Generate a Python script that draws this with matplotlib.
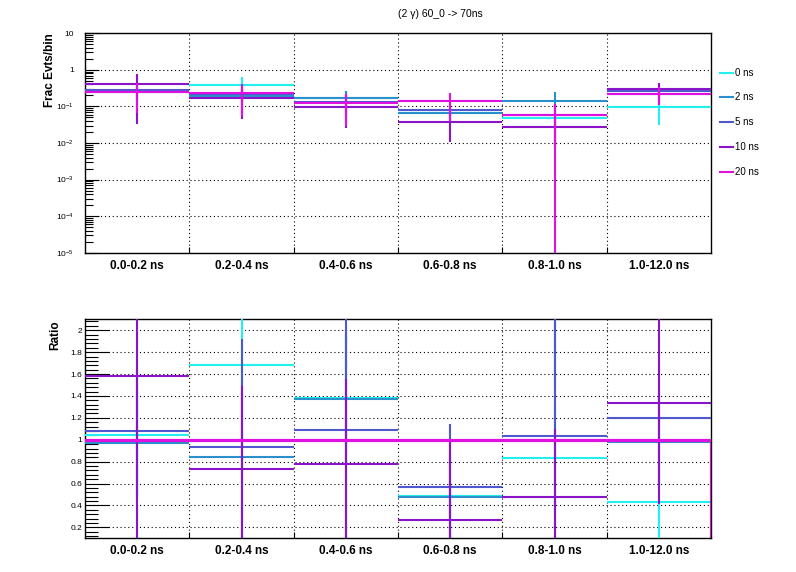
import numpy as np
import matplotlib
matplotlib.use("Agg")
import matplotlib.pyplot as plt
from matplotlib.ticker import FixedLocator, FuncFormatter, LogLocator, MultipleLocator, NullFormatter
from matplotlib.lines import Line2D

plt.rcParams['font.family'] = ['Liberation Sans', 'DejaVu Sans']
plt.rcParams['mathtext.default'] = 'regular'

# ---------------- data ----------------
bin_labels = ["0.0-0.2 ns", "0.2-0.4 ns", "0.4-0.6 ns", "0.6-0.8 ns", "0.8-1.0 ns", "1.0-12.0 ns"]
series_names = ["0 ns", "2 ns", "5 ns", "10 ns", "20 ns"]
series_colors = ["#22F0F0", "#2A90CC", "#5058D0", "#8A14C8", "#E010E0"]

# fraction of events per bin (top panel)
frac_0ns = [0.267, 0.387, 0.173, 0.067, 0.047, 0.095]
frac_2ns = [0.248, 0.193, 0.171, 0.066, 0.140, 0.216]
frac_5ns = [0.275, 0.215, 0.136, 0.079, 0.059, 0.264]
frac_10ns = [0.404, 0.168, 0.097, 0.0366, 0.027, 0.295]
frac_20ns = [0.256, 0.230, 0.125, 0.139, 0.057, 0.222]

err_0ns = [0.10, 0.27, 0.09, 0.025, 0.04, 0.064]
err_2ns = [0.10, 0.13, 0.10, 0.025, 0.114, 0.10]
err_5ns = [0.10, 0.15, 0.08, 0.030, 0.05, 0.10]
err_10ns = [0.37, 0.124, 0.072, 0.026, 0.02, 0.155]
err_20ns = [0.19, 0.175, 0.095, 0.10, 0.06, 0.11]

# ratio to 20 ns (bottom panel)
ratio_0ns = [1.043, 1.685, 1.38, 0.483, 0.83, 0.43]
ratio_2ns = [0.97, 0.84, 1.37, 0.474, 2.46, 0.98]
ratio_5ns = [1.076, 0.933, 1.09, 0.566, 1.034, 1.20]
ratio_10ns = [1.58, 0.73, 0.777, 0.263, 0.474, 1.336]
ratio_20ns = [1.0, 1.0, 1.0, 1.0, 1.0, 1.0]

rerr_0ns = [0.6, 0.8, 0.6, 0.4, 0.5, 0.4]
rerr_2ns = [0.5, 0.6, 0.6, 0.4, 1.0, 0.4]
rerr_5ns = [0.6, 0.99, 1.1, 0.574, 1.1, 0.6]
rerr_10ns = [1.7, 0.76, 0.78, 0.72, 0.62, 0.923]

fracs = [frac_0ns, frac_2ns, frac_5ns, frac_10ns, frac_20ns]
errs = [err_0ns, err_2ns, err_5ns, err_10ns, err_20ns]
ratios = [ratio_0ns, ratio_2ns, ratio_5ns, ratio_10ns]
rerrs = [rerr_0ns, rerr_2ns, rerr_5ns, rerr_10ns]

title = "(2 \u03b3) 60_0 -> 70ns"

# ---------------- figure ----------------
W, H = 796, 572
fig = plt.figure(figsize=(W / 100, H / 100), dpi=100)

def fx(px):
    return px / W

def fy(py):
    return 1 - py / H

x0, x1 = 85, 711
ax_top = fig.add_axes([fx(x0), fy(252.7), fx(x1) - fx(x0), fy(33.3) - fy(252.7)])
ax_bot = fig.add_axes([fx(x0), fy(538.3), fx(x1) - fx(x0), fy(319.3) - fy(538.3)])

nb = len(bin_labels)
edges = np.arange(nb + 1)
centers = edges[:-1] + 0.5
LW = 1.5

# top panel
for vals, ers, col in zip(fracs, errs, series_colors):
    v = np.array(vals)
    e = np.array(ers)
    lo = np.clip(v - e, 1e-8, None)
    hi = v + e
    ax_top.hlines(v, edges[:-1], edges[1:], colors=col, lw=LW, zorder=3)
    ax_top.vlines(centers, lo, hi, colors=col, lw=LW, zorder=3)

ax_top.set_yscale('log')
ax_top.set_ylim(1e-5, 10)
ax_top.set_xlim(0, nb)

def logfmt(v, pos):
    e = int(round(np.log10(v)))
    if e == 0:
        return "1"
    if e == 1:
        return "10"
    return r"$10^{%d}$" % e

ax_top.yaxis.set_major_locator(FixedLocator([10.0 ** k for k in range(-5, 2)]))
ax_top.yaxis.set_major_formatter(FuncFormatter(logfmt))
ax_top.yaxis.set_minor_locator(LogLocator(base=10, subs=np.arange(2, 10), numticks=20))
ax_top.yaxis.set_minor_formatter(NullFormatter())
ax_top.tick_params(axis='y', which='major', direction='in', length=10, width=0.8, labelsize=6, pad=8)
ax_top.tick_params(axis='y', which='minor', direction='in', length=6, width=0.8)

# bottom panel
for vals, ers, col in zip(ratios, rerrs, series_colors[:4]):
    v = np.array(vals)
    e = np.array(ers)
    ax_bot.hlines(v, edges[:-1], edges[1:], colors=col, lw=LW, zorder=3)
    ax_bot.vlines(centers, v - e, v + e, colors=col, lw=LW, zorder=3)

r20 = np.array(ratio_20ns)
xs = list(np.repeat(edges, 2)[1:-1]) + [nb]
ys = list(np.repeat(r20, 2)) + [-1.0]
ax_bot.plot(xs, ys, color=series_colors[4], lw=2.3, zorder=4, solid_joinstyle='miter')

ax_bot.set_ylim(0.1, 2.1)
ax_bot.set_xlim(0, nb)
ax_bot.yaxis.set_major_locator(MultipleLocator(0.2))
ax_bot.yaxis.set_minor_locator(MultipleLocator(0.04))
ax_bot.yaxis.set_major_formatter(FuncFormatter(lambda v, p: ("%.1f" % v).rstrip('0').rstrip('.') if v > 0.05 else ""))
ax_bot.tick_params(axis='y', which='major', direction='in', length=17, width=0.8, labelsize=6, pad=2)
ax_bot.tick_params(axis='y', which='minor', direction='in', length=9, width=0.8)

for ax in (ax_top, ax_bot):
    ax.xaxis.set_major_locator(FixedLocator(edges[1:-1]))
    ax.xaxis.set_major_formatter(NullFormatter())
    ax.xaxis.set_minor_locator(FixedLocator(centers))
    ax.set_xticklabels(bin_labels, minor=True, fontsize=8.5, fontweight='bold')
    ax.tick_params(axis='x', which='major', direction='in', length=4, width=0.8)
    ax.tick_params(axis='x', which='minor', length=0, pad=5)
    ax.grid(True, which='major', linestyle=(0, (1, 2.5)), color='black', lw=0.8)
    ax.set_axisbelow(True)
    for s in ax.spines.values():
        s.set_linewidth(1.0)
    ax.tick_params(axis='y', right=False)

fig.text(fx(50), fy(33), "Frac Evts/bin", rotation=90, ha='center', va='top', fontsize=8.5, fontweight='bold')
fig.text(fx(55), fy(320), "Ratio", rotation=90, ha='center', va='top', fontsize=8.5, fontweight='bold')
fig.text(fx(440), fy(14), title, ha='center', va='center', fontsize=7.5)

# legend
leg_y = [72.7, 97.3, 122.3, 147.3, 171.7]
for name, col, yy in zip(series_names, series_colors, leg_y):
    fig.add_artist(Line2D([fx(720), fx(733)], [fy(yy), fy(yy)], color=col, lw=LW))
    fig.text(fx(735), fy(yy), name, ha='left', va='center', fontsize=7)

fig.savefig("out.png", dpi=100)
